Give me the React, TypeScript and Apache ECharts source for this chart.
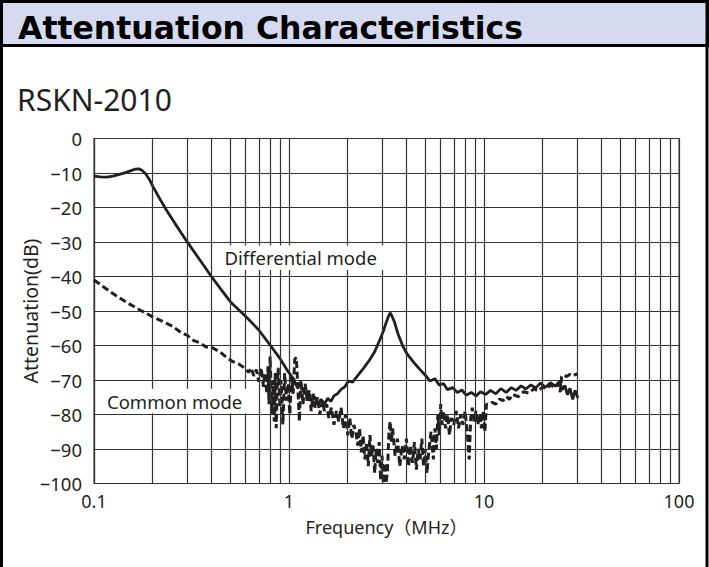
import React, { useEffect, useRef } from "react";
import * as echarts from "echarts";

const diffFreq = [0.1, 0.108, 0.116, 0.125, 0.135, 0.145, 0.155, 0.163, 0.17, 0.176, 0.184, 0.192, 0.2, 0.215, 0.235, 0.26, 0.3, 0.35, 0.4, 0.45, 0.5, 0.6, 0.7, 0.81, 0.9, 0.99, 1.05, 1.1, 1.15, 1.2, 1.25, 1.3, 1.35, 1.4, 1.46, 1.52, 1.58, 1.64, 1.7, 1.77, 1.85, 1.93, 2.02, 2.12, 2.26, 2.42, 2.59, 2.75, 2.92, 3.05, 3.16, 3.25, 3.31, 3.38, 3.48, 3.62, 3.84, 4.05, 4.33, 4.7, 5.07, 5.3, 5.6, 5.9, 6.2, 6.5, 6.9, 7.3, 7.7, 8.1, 8.6, 9.1, 9.6, 10.2, 10.8, 11.5, 12.2, 13, 13.8, 14.6, 15.5, 16.4, 17.4, 18.4, 19.5, 20.7, 21.9, 23.2, 24.4, 25.2, 26, 26.8, 27.6, 28.5, 29.3, 30.3];
const diffValues = [-10.9, -11.1, -11.2, -10.9, -10.4, -9.9, -9.3, -8.9, -8.8, -9.2, -10.2, -11.8, -13.8, -17.0, -20.7, -24.6, -29.9, -35.3, -40.0, -43.9, -47.3, -51.6, -55.5, -60.3, -63.8, -67.6, -69.5, -72.0, -71.4, -74.0, -73.2, -76.0, -74.8, -77.2, -75.6, -77.0, -75.3, -76.2, -74.6, -74.0, -72.7, -72.0, -70.3, -70.6, -68.6, -66.5, -64.2, -61.8, -58.4, -55.8, -53.1, -51.3, -50.5, -51.6, -53.3, -56.6, -60.3, -62.6, -64.7, -67.0, -69.0, -70.3, -69.6, -71.5, -71.0, -72.8, -72.2, -73.6, -72.9, -74.4, -73.6, -74.6, -73.4, -74.2, -73.0, -74.0, -72.5, -73.6, -72.2, -73.0, -71.7, -72.6, -71.4, -72.3, -70.9, -72.1, -70.8, -71.8, -70.4, -72.8, -71.6, -74.3, -72.4, -75.6, -73.0, -75.2];

const commonFreq = [
  0.1, 0.115, 0.13, 0.15, 0.172, 0.2, 0.225, 0.254, 0.28, 0.3,
  0.325, 0.348, 0.375, 0.4, 0.441, 0.48, 0.516, 0.55, 0.58, 0.6,
  0.62, 0.64, 0.66, 0.68, 0.7, 0.72, 0.74, 0.75, 0.77, 0.78,
  0.79, 0.8, 0.81, 0.82, 0.83, 0.84, 0.85, 0.86, 0.87, 0.88,
  0.9, 0.91, 0.93, 0.95, 0.97, 0.99, 1.01, 1.03, 1.05, 1.07,
  1.09, 1.11, 1.13, 1.15, 1.18, 1.21, 1.24, 1.27, 1.3, 1.33,
  1.36, 1.4, 1.44, 1.48, 1.52, 1.56, 1.6, 1.65, 1.7, 1.75,
  1.8, 1.85, 1.9, 1.95, 2.0, 2.05, 2.1, 2.15, 2.2, 2.25,
  2.3, 2.35, 2.4, 2.45, 2.5, 2.55, 2.6, 2.65, 2.7, 2.75,
  2.8, 2.85, 2.9, 2.95, 3.0, 3.05, 3.1, 3.15, 3.2, 3.25,
  3.3, 3.35, 3.4, 3.5, 3.6, 3.7, 3.8, 3.9, 4.0, 4.1,
  4.2, 4.3, 4.4, 4.5, 4.6, 4.7, 4.8, 4.9, 5.0, 5.1,
  5.2, 5.35, 5.5, 5.6, 5.7, 5.8, 5.9, 6.0, 6.1, 6.2,
  6.35, 6.5, 6.65, 6.8, 7.0, 7.2, 7.4, 7.6, 7.8, 8.0,
  8.2, 8.4, 8.55, 8.7, 8.9, 9.1, 9.3, 9.5, 9.7, 9.9,
  10.1, 10.3, 10.6, 11, 11.5, 12, 12.5, 13, 13.5, 14,
  15, 16, 17, 18, 19, 20, 21, 22, 23, 24,
  24.6, 25.0, 25.5, 26.5, 27.5, 28.5, 29.5, 30.3,
];
const commonValues = [
  -41, -43.5, -45.6, -47.8, -49.7, -51.7, -53.0, -54.5, -56.3, -57.0,
  -58.6, -59.2, -60.4, -60.5, -61.8, -63.5, -64.7, -65.3, -66.2, -66.8,
  -67.8, -66.5, -68.8, -67.0, -70.5, -66.5, -72, -68, -74, -66,
  -77, -63.2, -73, -80, -70, -82, -68, -84, -72, -66.5,
  -78, -70, -83, -68, -76, -71, -80, -69, -74, -64,
  -63.5, -72, -82, -70, -77, -71, -76, -73, -79, -74,
  -78, -75, -80, -76, -79, -77, -81, -78, -83, -79,
  -82, -78, -84, -80, -86, -81, -87, -83, -85, -89,
  -84, -91, -86, -93, -88, -95, -86, -92, -89, -97,
  -90, -94, -88, -99, -92, -100, -94, -100, -96, -86,
  -82, -88, -84, -92, -87, -95, -89, -93, -87, -95,
  -89, -94, -88, -96, -90, -93, -87, -95, -90, -97,
  -91, -85, -93, -84, -90, -80, -86, -77, -83, -79,
  -84, -80, -86, -81, -83, -79, -84, -80, -83, -79,
  -85, -93, -81, -78, -82, -79, -83, -80, -84, -79,
  -85, -77, -77, -76.5, -77, -75.5, -76, -74.8, -75.6, -74.2,
  -74.8, -73.4, -73.8, -72.6, -73.2, -72.0, -72.6, -71.4, -72.2, -71.0,
  -73.5, -69.0, -68.6, -69.0, -68.4, -68.8, -68.4, -68.2,
];

const minorGridFreq = [0.2, 0.3, 0.4, 0.5, 0.6, 0.7, 0.8, 0.9, 2, 3, 4, 5, 6, 7, 8, 9, 20, 30, 40, 50, 60, 70, 80, 90];
const xTickLabels = ["0.1", "1", "10", "100"];

const TITLE = "Attentuation Characteristics";
const MODEL = "RSKN-2010";
const INK = "#231f20";
const GRID = "#333333";
const FONT = "'Noto Sans', 'Noto Sans CJK JP', sans-serif";

export default function App() {
  const ref = useRef<HTMLDivElement>(null);
  useEffect(() => {
    if (!ref.current) return;
    const chart = echarts.init(ref.current, undefined, { renderer: "svg" });
    const diffData = diffFreq.map((f, i) => [f, diffValues[i]]);
    const commonData = commonFreq.map((f, i) => [f, commonValues[i]]);
    chart.setOption({
      animation: false,
      backgroundColor: "#ffffff",
      textStyle: { fontFamily: FONT },
      graphic: [
        { type: "rect", shape: { x: 1.5, y: 1.5, width: 706, height: 44 }, style: { fill: "#d5daf0", stroke: "#000", lineWidth: 3 } },
        { type: "line", shape: { x1: 1.5, y1: 0, x2: 1.5, y2: 567 }, style: { stroke: "#000", lineWidth: 3 } },
        { type: "line", shape: { x1: 707, y1: 0, x2: 707, y2: 567 }, style: { stroke: "#000", lineWidth: 3 } },
        { type: "text", x: 18, y: 28, style: { text: TITLE, fill: "#000", font: "bold 31.5px 'DejaVu Sans', sans-serif", verticalAlign: "middle" } },
        { type: "text", x: 17, y: 99, style: { text: MODEL, fill: INK, font: "30px 'Noto Sans', sans-serif", verticalAlign: "middle" } },
      ],
      grid: { left: 94, top: 138.5, width: 585, height: 345, show: true, borderColor: GRID, borderWidth: 1, containLabel: false },
      xAxis: {
        type: "log",
        logBase: 10,
        min: 0.1,
        max: 100,
        name: "Frequency（MHz）",
        nameLocation: "middle",
        nameGap: 34,
        nameMoveOverlap: false,
        nameTextStyle: { fontSize: 18, color: INK, fontFamily: FONT },
        axisLine: { show: true, lineStyle: { color: GRID, width: 1.2 } },
        axisTick: { show: false },
        splitLine: { show: true, lineStyle: { color: GRID, width: 1.2 } },
        axisLabel: {
          fontSize: 18,
          color: INK,
          margin: 8,
          formatter: (v: number) => {
            const e = Math.round(Math.log10(v)) + 1;
            return xTickLabels[e] ?? String(v);
          },
        },
      },
      yAxis: {
        type: "value",
        min: -100,
        max: 0,
        interval: 10,
        name: "Attenuation(dB)",
        nameLocation: "middle",
        nameGap: 54,
        nameMoveOverlap: false,
        nameTextStyle: { fontSize: 19.5, color: INK, fontFamily: FONT },
        axisLine: { show: true, lineStyle: { color: GRID, width: 1.2 } },
        axisTick: { show: false },
        splitLine: { show: true, lineStyle: { color: GRID, width: 1.2 } },
        axisLabel: {
          fontSize: 18.5,
          color: INK,
          margin: 12,
          formatter: (v: number) => (v === 0 ? "0" : "−" + Math.abs(v)),
        },
      },
      series: [
        {
          type: "line",
          name: "grid",
          data: [],
          silent: true,
          markLine: {
            silent: true,
            symbol: ["none", "none"],
            label: { show: false },
            lineStyle: { color: GRID, width: 1.2, type: "solid" },
            data: minorGridFreq.map((f) => ({ xAxis: f })),
          },
        },
        {
          type: "line",
          name: "Common mode",
          data: commonData,
          showSymbol: false,
          lineStyle: { color: INK, width: 3, type: [7, 3.5] },
          z: 3,
          markPoint: {
            symbol: "rect",
            symbolSize: 0,
            data: [
              {
                coord: [0.259, -76.1],
                label: { show: true, formatter: "Common mode", color: INK, fontSize: 18.5, backgroundColor: "#fff", padding: [3, 7], fontFamily: FONT },
              },
            ],
          },
        },
        {
          type: "line",
          name: "Differential mode",
          data: diffData,
          showSymbol: false,
          lineStyle: { color: INK, width: 2.8 },
          z: 4,
          markPoint: {
            symbol: "rect",
            symbolSize: 0,
            data: [
              {
                coord: [1.148, -34.6],
                label: { show: true, formatter: "Differential mode", color: INK, fontSize: 18.5, backgroundColor: "#fff", padding: [3, 7], fontFamily: FONT },
              },
            ],
          },
        },
      ],
    });
    return () => chart.dispose();
  }, []);
  return <div ref={ref} style={{ position: "fixed", left: 0, top: 0, width: 709, height: 567 }} />;
}
